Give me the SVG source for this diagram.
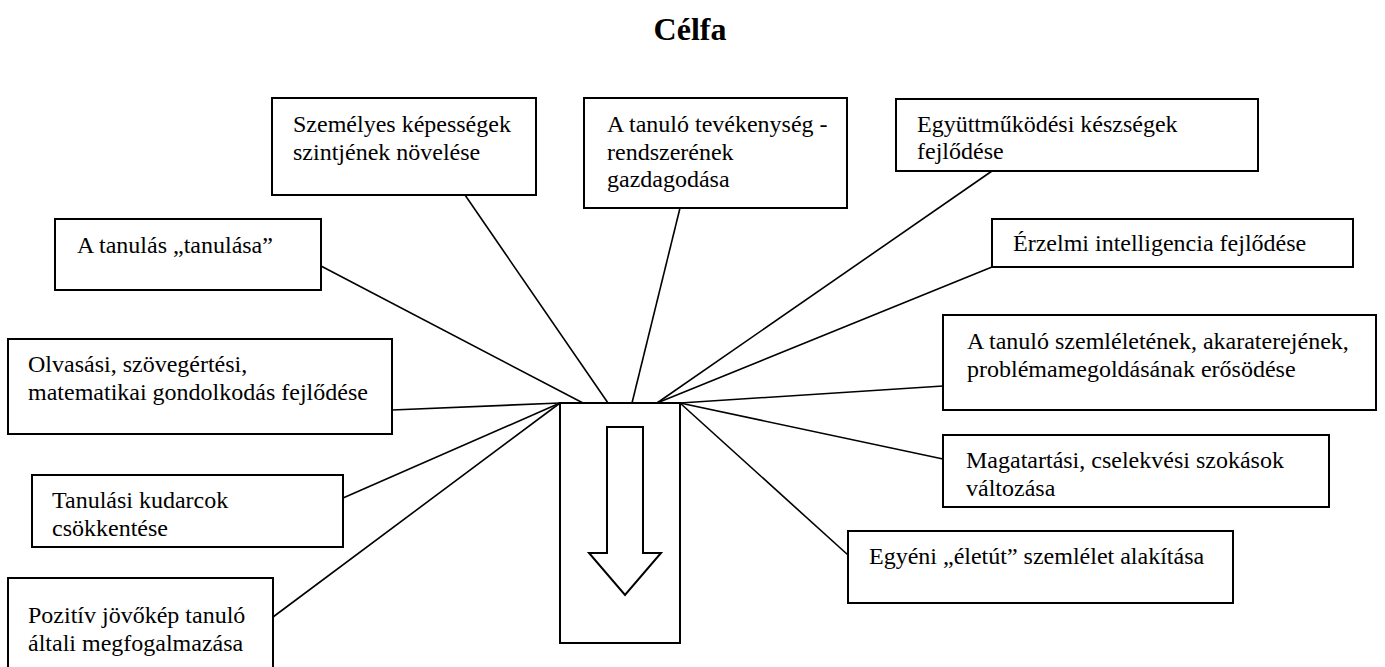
<svg xmlns="http://www.w3.org/2000/svg" width="1385" height="667" viewBox="0 0 1385 667">
<style>
.box{fill:#fff;stroke:#000;stroke-width:2}
.t{font-family:"Liberation Serif","Times New Roman",serif;font-size:24px;fill:#000}
.title{font-family:"Liberation Serif","Times New Roman",serif;font-size:32px;font-weight:bold;fill:#000}
.c line{stroke:#000;stroke-width:1.6}
</style>
<rect width="1385" height="667" fill="#fff"/>
<text class="title" x="690" y="40" text-anchor="middle">Célfa</text>
<g class="c" id="connectors">
<line x1="321" y1="266" x2="583" y2="403"/>
<line x1="465" y1="195" x2="608" y2="403"/>
<line x1="680" y1="208" x2="632" y2="403"/>
<line x1="992" y1="171" x2="657" y2="403"/>
<line x1="992" y1="267" x2="657" y2="403"/>
<line x1="943" y1="386" x2="680" y2="403"/>
<line x1="943" y1="459" x2="680" y2="403"/>
<line x1="848" y1="555" x2="680" y2="403"/>
<line x1="392" y1="410" x2="560" y2="403"/>
<line x1="343" y1="498" x2="560" y2="403"/>
<line x1="273" y1="617" x2="560" y2="403"/>
</g>
<g id="center">
<rect class="box" x="560" y="403" width="120" height="240"/>
<polygon points="607,427 643,427 643,553 661,553 625,595 589,553 607,553" fill="#fff" stroke="#000" stroke-width="2"/>
</g>
<g id="n-szemelyes">
<rect class="box" x="272" y="98" width="264" height="97"/>
<text class="t" x="293" y="132">Személyes képességek</text>
<text class="t" x="293" y="160">szintjének növelése</text>
</g>
<g id="n-tevekenyseg">
<rect class="box" x="584" y="98" width="263" height="110"/>
<text class="t" x="607" y="132">A tanuló tevékenység -</text>
<text class="t" x="607" y="160">rendszerének</text>
<text class="t" x="607" y="187">gazdagodása</text>
</g>
<g id="n-egyuttmukodesi">
<rect class="box" x="896" y="99" width="362" height="72"/>
<text class="t" x="917" y="132">Együttműködési készségek</text>
<text class="t" x="917" y="159">fejlődése</text>
</g>
<g id="n-tanulas">
<rect class="box" x="55" y="219" width="266" height="71"/>
<text class="t" x="77" y="253">A tanulás „tanulása”</text>
</g>
<g id="n-erzelmi">
<rect class="box" x="992" y="219" width="361" height="48"/>
<text class="t" x="1013" y="251">Érzelmi intelligencia fejlődése</text>
</g>
<g id="n-olvasasi">
<rect class="box" x="8" y="339" width="384" height="95"/>
<text class="t" x="28" y="372">Olvasási, szövegértési,</text>
<text class="t" x="28" y="400">matematikai gondolkodás fejlődése</text>
</g>
<g id="n-szemlelet">
<rect class="box" x="943" y="315" width="433" height="95"/>
<text class="t" x="967" y="349">A tanuló szemléletének, akaraterejének,</text>
<text class="t" x="967" y="377">problémamegoldásának erősödése</text>
</g>
<g id="n-magatartasi">
<rect class="box" x="943" y="435" width="386" height="72"/>
<text class="t" x="966" y="468">Magatartási, cselekvési szokások</text>
<text class="t" x="966" y="496">változása</text>
</g>
<g id="n-kudarcok">
<rect class="box" x="32" y="475" width="311" height="72"/>
<text class="t" x="52" y="508">Tanulási kudarcok</text>
<text class="t" x="52" y="536">csökkentése</text>
</g>
<g id="n-eletut">
<rect class="box" x="848" y="531" width="385" height="72"/>
<text class="t" x="869" y="564">Egyéni „életút” szemlélet alakítása</text>
</g>
<g id="n-pozitiv">
<rect class="box" x="8" y="578" width="265" height="110"/>
<text class="t" x="28" y="623">Pozitív jövőkép tanuló</text>
<text class="t" x="28" y="651">általi megfogalmazása</text>
</g>
</svg>
